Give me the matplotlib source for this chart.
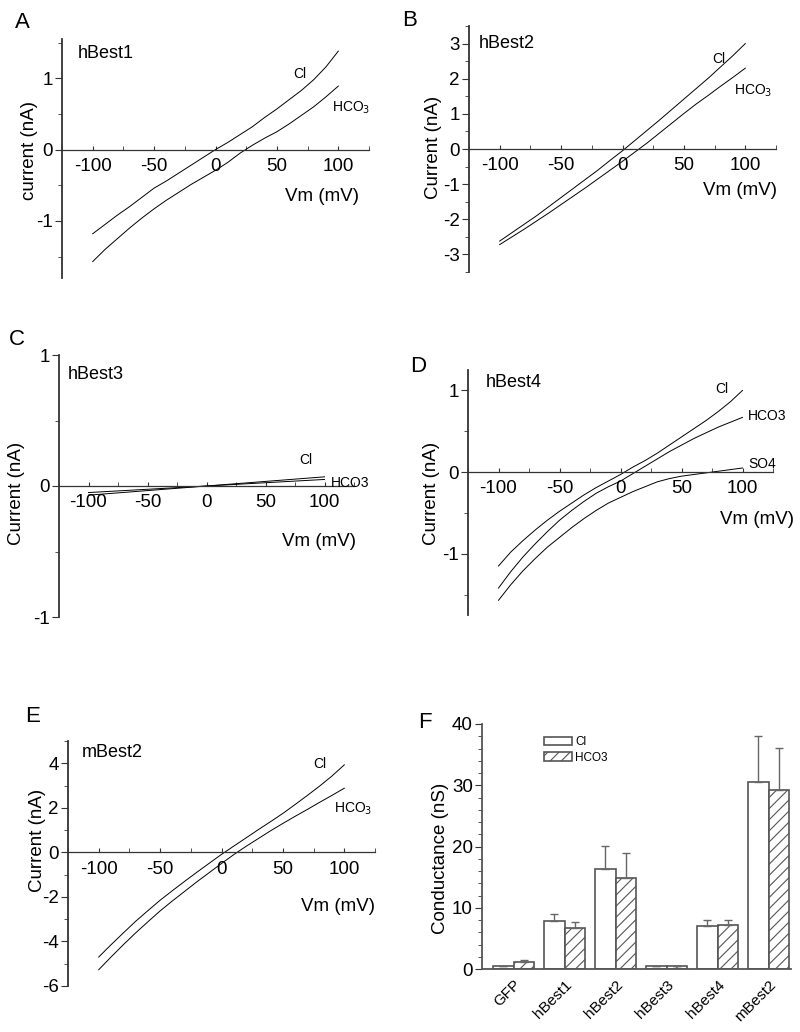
import matplotlib
matplotlib.use('Agg')
import matplotlib.pyplot as plt
from matplotlib.ticker import MultipleLocator
import numpy as np

plt.rcParams['font.family'] = ['Liberation Sans', 'DejaVu Sans']
plt.rcParams['axes.unicode_minus'] = False
plt.rcParams['hatch.color'] = '#666666'
plt.rcParams['hatch.linewidth'] = 0.8

# membrane potential (mV) for all I-V traces
vm = [-100, -90, -80, -70, -60, -50, -40, -30, -20, -10, 0,
      10, 20, 30, 40, 50, 60, 70, 80, 90, 100]

# A  hBest1
a_cl = [-1.18, -1.05, -0.92, -0.80, -0.67, -0.54, -0.44, -0.33, -0.22, -0.11, 0.0,
        0.10, 0.21, 0.32, 0.45, 0.57, 0.70, 0.83, 0.98, 1.16, 1.38]
a_hco3 = [-1.57, -1.40, -1.25, -1.10, -0.96, -0.83, -0.71, -0.60, -0.49, -0.39, -0.29,
          -0.18, -0.05, 0.06, 0.16, 0.25, 0.36, 0.48, 0.60, 0.74, 0.89]
# B  hBest2
b_cl = [-2.62, -2.38, -2.14, -1.90, -1.64, -1.38, -1.12, -0.86, -0.60, -0.32, -0.05,
        0.24, 0.53, 0.82, 1.12, 1.42, 1.72, 2.02, 2.34, 2.66, 3.00]
b_hco3 = [-2.72, -2.50, -2.28, -2.05, -1.82, -1.58, -1.34, -1.10, -0.85, -0.60, -0.35,
          -0.09, 0.17, 0.45, 0.73, 1.01, 1.28, 1.53, 1.79, 2.04, 2.30]
# C  hBest3
c_cl = [-0.050, -0.045, -0.040, -0.035, -0.030, -0.025, -0.020, -0.015, -0.010, -0.005, 0.0,
        0.007, 0.014, 0.021, 0.028, 0.035, 0.042, 0.049, 0.056, 0.063, 0.070]
c_hco3 = [-0.070, -0.063, -0.056, -0.049, -0.042, -0.035, -0.028, -0.021, -0.014, -0.007, 0.0,
          0.005, 0.010, 0.015, 0.020, 0.025, 0.030, 0.035, 0.040, 0.045, 0.050]
# D  hBest4
d_cl = [-1.15, -0.98, -0.84, -0.71, -0.59, -0.48, -0.38, -0.28, -0.19, -0.11, -0.03,
        0.06, 0.14, 0.23, 0.33, 0.43, 0.53, 0.63, 0.74, 0.86, 1.00]
d_hco3 = [-1.42, -1.22, -1.04, -0.88, -0.73, -0.59, -0.47, -0.36, -0.26, -0.18, -0.11,
          -0.02, 0.07, 0.16, 0.25, 0.33, 0.41, 0.48, 0.55, 0.61, 0.67]
d_so4 = [-1.57, -1.38, -1.21, -1.06, -0.92, -0.80, -0.68, -0.57, -0.47, -0.38, -0.31,
         -0.24, -0.18, -0.12, -0.08, -0.05, -0.03, -0.01, 0.01, 0.03, 0.05]
# E  mBest2
e_cl = [-4.70, -4.15, -3.62, -3.10, -2.62, -2.15, -1.72, -1.30, -0.89, -0.49, -0.09,
        0.28, 0.65, 1.02, 1.38, 1.75, 2.15, 2.56, 2.98, 3.43, 3.93]
e_hco3 = [-5.27, -4.70, -4.15, -3.62, -3.12, -2.63, -2.18, -1.75, -1.32, -0.91, -0.50,
          -0.10, 0.27, 0.62, 0.97, 1.30, 1.62, 1.93, 2.25, 2.56, 2.88]

# F  conductance (nS)
groups = ['GFP', 'hBest1', 'hBest2', 'hBest3', 'hBest4', 'mBest2']
g_cl = [0.44, 7.8, 16.3, 0.5, 6.95, 30.6]
g_cl_err = [0.1, 1.2, 3.8, 0.05, 1.05, 7.5]
g_hco3 = [1.1, 6.7, 14.85, 0.5, 7.2, 29.2]
g_hco3_err = [0.4, 1.0, 4.1, 0.05, 0.8, 6.9]

W, H = 800, 1032
fig = plt.figure(figsize=(W / 100, H / 100), dpi=100)
AX_COLOR = '#333333'
TICK_FS = 13.5
LAB_FS = 13.5


def rect(x0, y0, x1, y1):
    return [x0 / W, 1 - y1 / H, (x1 - x0) / W, (y1 - y0) / H]


def iv_panel(box, ylim, ymaj, ymin, traces, name, name_xy, vm_xy):
    ax = fig.add_axes(rect(*box))
    for y, lab, lx, ly in traces:
        ax.plot(vm, y, color='black', lw=0.7)
        ax.text(lx, ly, lab, fontsize=10, ha='left', va='center')
    ax.set_xlim(-125, 125)
    ax.set_ylim(*ylim)
    for s in ['top', 'right']:
        ax.spines[s].set_visible(False)
    ax.spines['bottom'].set_position(('data', 0))
    ax.spines['bottom'].set_color(AX_COLOR)
    ax.spines['bottom'].set_linewidth(0.9)
    ax.spines['left'].set_color(AX_COLOR)
    ax.spines['left'].set_linewidth(1.3)
    ax.xaxis.set_major_locator(MultipleLocator(50))
    ax.xaxis.set_minor_locator(MultipleLocator(25))
    ax.yaxis.set_major_locator(MultipleLocator(ymaj))
    ax.yaxis.set_minor_locator(MultipleLocator(ymin))
    ax.tick_params(axis='x', which='both', direction='in', length=3, pad=6,
                   labelsize=TICK_FS, color=AX_COLOR)
    ax.tick_params(axis='y', which='major', direction='out', length=5, pad=1.5,
                   labelsize=TICK_FS, color=AX_COLOR)
    ax.tick_params(axis='y', which='minor', direction='out', length=3, color=AX_COLOR)
    ax.text(name_xy[0], name_xy[1], name, transform=ax.transAxes, fontsize=13,
            ha='left', va='center')
    ax.text(vm_xy[0], vm_xy[1], 'Vm (mV)', fontsize=LAB_FS, ha='right', va='center')
    return ax


hco3_lab = 'HCO$_3$'

iv_panel((62, 39, 369, 278), (-1.8, 1.55), 1, 0.5,
         [(a_cl, 'Cl', 63, 1.06), (a_hco3, hco3_lab, 95, 0.58)],
         'hBest1', (0.05, 0.94), (117, -0.66))
iv_panel((469, 26, 776, 272), (-3.5, 3.5), 1, 0.5,
         [(b_cl, 'Cl', 73, 2.57), (b_hco3, hco3_lab, 91, 1.65)],
         'hBest2', (0.033, 0.93), (126, -1.19))
iv_panel((59, 355, 354, 617), (-1, 1), 1, 0.5,
         [(c_cl, 'Cl', 79, 0.2), (c_hco3, 'HCO3', 105, 0.02)],
         'hBest3', (0.03, 0.924), (127, -0.425))
iv_panel((468, 370, 773, 615), (-1.75, 1.25), 1, 0.5,
         [(d_cl, 'Cl', 78, 1.02), (d_hco3, 'HCO3', 104, 0.69), (d_so4, 'SO4', 105, 0.1)],
         'hBest4', (0.058, 0.947), (142, -0.58))
iv_panel((68, 741, 375, 986), (-6, 5), 2, 1,
         [(e_cl, 'Cl', 75, 3.98), (e_hco3, hco3_lab, 92, 1.95)],
         'mBest2', (0.046, 0.955), (125, -2.42))

# y labels and panel letters in figure pixels
for txt, x, y in [('current (nA)', 30, 150), ('Current (nA)', 433, 147),
                  ('Current (nA)', 17, 493), ('Current (nA)', 432, 493),
                  ('Current (nA)', 37, 840), ('Conductance (nS)', 440, 858)]:
    fig.text(x / W, 1 - y / H, txt, rotation=90, ha='center', va='center', fontsize=LAB_FS)
for txt, x, y in [('A', 22, 22), ('B', 410, 20), ('C', 17, 340),
                  ('D', 418, 367), ('E', 33, 717), ('F', 425, 723)]:
    fig.text(x / W, 1 - y / H, txt, ha='center', va='center', fontsize=16)

# F bar chart
axf = fig.add_axes(rect(482, 724, 791, 969))
pos = np.arange(1, len(groups) + 1)
bw = 0.4
axf.bar(pos - bw / 2, g_cl, bw, color='white', edgecolor='#555555', lw=1.2,
        yerr=[np.zeros(len(g_cl)), g_cl_err], ecolor='#666666',
        error_kw=dict(lw=1, capsize=3, capthick=1), label='Cl', zorder=2)
axf.bar(pos + bw / 2, g_hco3, bw, color='white', edgecolor='#555555', lw=1.2,
        hatch='///', yerr=[np.zeros(len(g_hco3)), g_hco3_err], ecolor='#666666',
        error_kw=dict(lw=1, capsize=3, capthick=1), label='HCO3', zorder=2)
axf.set_xlim(0.38, 6.44)
axf.set_ylim(0, 40)
for s in ['top', 'right']:
    axf.spines[s].set_visible(False)
for s in ['left', 'bottom']:
    axf.spines[s].set_color('#555555')
    axf.spines[s].set_linewidth(1.3)
axf.yaxis.set_major_locator(MultipleLocator(10))
axf.yaxis.set_minor_locator(MultipleLocator(2))
axf.tick_params(axis='y', which='major', direction='out', length=5, pad=1.5,
                labelsize=TICK_FS, color=AX_COLOR)
axf.tick_params(axis='y', which='minor', direction='out', length=3, color=AX_COLOR)
axf.set_xticks(pos)
axf.set_xticklabels(groups, rotation=45, ha='right', rotation_mode='anchor', fontsize=11)
axf.tick_params(axis='x', length=0, pad=6)
axf.legend(loc='upper left', bbox_to_anchor=(0.18, 0.975), frameon=False,
           fontsize=8.5, handlelength=2.4, handleheight=0.75, handletextpad=0.3,
           labelspacing=0.3, borderpad=0)

fig.savefig('out.png', dpi=100)
